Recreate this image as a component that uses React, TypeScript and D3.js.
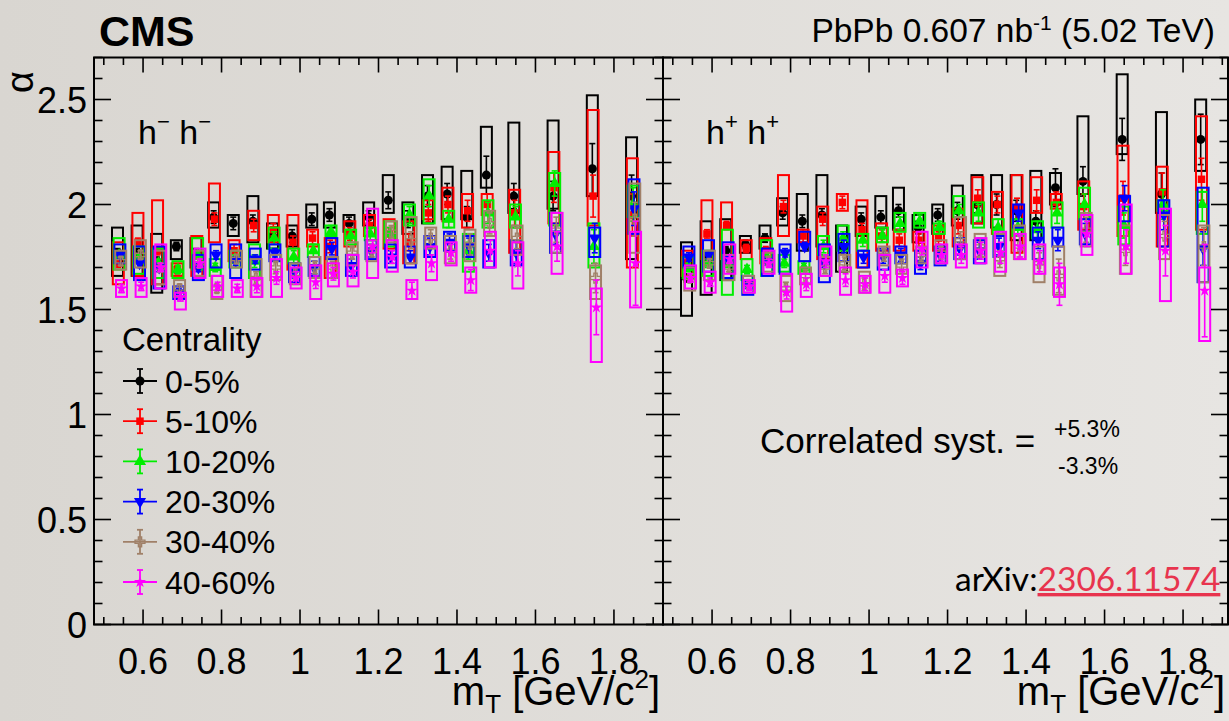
import React from 'react';
import * as d3 from 'd3';

// ---------- data ----------
const MT = [0.54, 0.59, 0.64, 0.69, 0.74, 0.785, 0.835, 0.885, 0.935, 0.985, 1.035, 1.08, 1.13, 1.18, 1.23, 1.28, 1.33, 1.38, 1.43, 1.48, 1.55, 1.65, 1.75, 1.85];
const CENTRALITY = ['0-5%', '5-10%', '10-20%', '20-30%', '30-40%', '40-60%'];
const X_TICKS = [0.6, 0.8, 1, 1.2, 1.4, 1.6, 1.8];
const Y_TICKS = [0, 0.5, 1, 1.5, 2, 2.5];

// h- h- panel
const MM_C0_VAL = [1.77,1.77,1.73,1.80,1.77,1.94,1.91,1.92,1.85,1.85,1.93,1.95,1.91,1.94,2.02,1.93,2.04,2.05,1.94,2.14,2.04,2.04,2.17,2.04];
const MM_C0_LO = [1.66,1.66,1.58,1.74,1.70,1.89,1.85,1.82,1.79,1.80,1.89,1.89,1.87,1.90,1.96,1.86,1.91,1.93,1.93,2.08,1.96,1.98,2.04,1.74];
const MM_C0_HI = [1.89,1.90,1.86,1.83,1.84,2.01,1.95,2.04,1.91,1.90,2.00,2.01,1.95,2.01,2.14,2.01,2.14,2.18,2.16,2.37,2.39,2.40,2.52,2.32];
const MM_C0_STAT = [0.02,0.02,0.02,0.02,0.02,0.03,0.03,0.03,0.03,0.03,0.03,0.03,0.03,0.03,0.04,0.04,0.05,0.05,0.05,0.09,0.06,0.07,0.12,0.1];

const MM_C1_VAL = [1.72,1.82,1.78,1.69,1.76,1.93,1.78,1.90,1.88,1.82,1.84,1.80,1.86,1.90,1.86,1.82,1.96,2.00,1.97,2.00,1.96,2.08,2.04,1.95];
const MM_C1_LO = [1.62,1.66,1.62,1.66,1.66,1.82,1.73,1.83,1.82,1.69,1.80,1.65,1.80,1.85,1.79,1.72,1.93,1.92,1.89,1.95,1.77,1.91,1.90,1.70];
const MM_C1_HI = [1.82,1.96,2.02,1.72,1.85,2.10,1.83,1.97,1.95,1.95,1.88,1.84,1.92,1.95,1.93,1.92,2.02,2.08,2.05,2.05,2.07,2.25,2.45,2.22];
const MM_C1_STAT = [0.02,0.02,0.02,0.02,0.02,0.03,0.03,0.03,0.03,0.03,0.03,0.03,0.03,0.03,0.03,0.04,0.04,0.04,0.05,0.05,0.06,0.07,0.1,0.1];

const MM_C2_VAL = [1.76,1.74,1.72,1.69,1.76,1.70,1.74,1.73,1.84,1.75,1.78,1.87,1.85,1.86,1.86,1.95,2.04,1.93,1.78,1.96,1.94,2.10,1.80,2.00];
const MM_C2_LO = [1.69,1.67,1.65,1.65,1.69,1.66,1.70,1.65,1.79,1.72,1.75,1.85,1.81,1.83,1.80,1.90,1.91,1.89,1.68,1.89,1.89,1.90,1.70,1.94];
const MM_C2_HI = [1.84,1.80,1.79,1.73,1.84,1.74,1.78,1.81,1.89,1.79,1.81,1.90,1.88,1.89,1.92,2.00,2.12,1.97,1.86,2.02,2.00,2.15,1.91,2.09];
const MM_C2_STAT = [0.02,0.02,0.02,0.02,0.02,0.02,0.02,0.03,0.03,0.03,0.03,0.03,0.03,0.03,0.03,0.04,0.05,0.04,0.04,0.05,0.05,0.06,0.08,0.08];

const MM_C3_VAL = [1.76,1.72,1.70,1.58,1.70,1.76,1.73,1.74,1.77,1.68,1.70,1.79,1.71,1.78,1.75,1.75,1.80,1.82,1.80,1.77,1.77,1.86,1.84,1.98];
const MM_C3_LO = [1.72,1.64,1.60,1.55,1.64,1.70,1.65,1.69,1.73,1.63,1.66,1.74,1.66,1.74,1.70,1.70,1.75,1.78,1.75,1.70,1.71,1.77,1.75,1.86];
const MM_C3_HI = [1.81,1.80,1.80,1.61,1.76,1.81,1.81,1.79,1.81,1.72,1.75,1.84,1.76,1.83,1.81,1.80,1.85,1.87,1.85,1.83,1.83,1.96,1.89,2.12];
const MM_C3_STAT = [0.02,0.02,0.02,0.02,0.02,0.02,0.02,0.02,0.02,0.03,0.03,0.03,0.03,0.03,0.03,0.03,0.04,0.04,0.04,0.04,0.05,0.05,0.07,0.08];

const MM_C4_VAL = [1.73,1.76,1.70,1.60,1.72,1.60,1.74,1.65,1.70,1.67,1.70,1.70,1.77,1.78,1.87,1.83,1.84,1.78,1.81,1.91,1.84,1.88,1.65,1.93];
const MM_C4_LO = [1.69,1.70,1.62,1.56,1.66,1.55,1.70,1.56,1.64,1.62,1.65,1.65,1.71,1.73,1.82,1.72,1.79,1.72,1.73,1.85,1.76,1.77,1.55,1.77];
const MM_C4_HI = [1.78,1.83,1.78,1.64,1.78,1.66,1.78,1.74,1.76,1.72,1.75,1.75,1.82,1.83,1.92,1.94,1.89,1.85,1.88,1.97,1.90,1.96,1.71,2.10];
const MM_C4_STAT = [0.02,0.02,0.02,0.02,0.02,0.02,0.02,0.03,0.03,0.03,0.03,0.03,0.03,0.03,0.03,0.04,0.04,0.04,0.05,0.05,0.05,0.06,0.07,0.08];

const MM_C5_VAL = [1.60,1.61,1.70,1.56,1.72,1.61,1.60,1.61,1.65,1.65,1.63,1.67,1.68,1.80,1.75,1.59,1.72,1.77,1.64,1.78,1.72,1.80,1.51,1.72];
const MM_C5_LO = [1.56,1.56,1.60,1.50,1.65,1.56,1.56,1.56,1.56,1.60,1.55,1.61,1.61,1.65,1.68,1.55,1.64,1.71,1.58,1.70,1.60,1.67,1.25,1.51];
const MM_C5_HI = [1.64,1.65,1.81,1.58,1.79,1.66,1.64,1.65,1.74,1.70,1.71,1.72,1.76,1.98,1.83,1.64,1.80,1.82,1.70,1.87,1.82,1.96,1.60,1.87];
const MM_C5_STAT = [0.02,0.02,0.02,0.02,0.02,0.02,0.02,0.03,0.03,0.03,0.03,0.03,0.03,0.03,0.03,0.04,0.04,0.04,0.05,0.05,0.06,0.07,0.13,0.2];

// h+ h+ panel
const PP_C0_VAL = [1.65,1.75,1.78,1.81,1.84,1.96,1.92,1.95,1.80,1.93,1.94,1.97,1.89,1.95,1.97,2.00,2.00,1.97,1.92,2.08,2.11,2.31,2.05,2.31];
const PP_C0_LO = [1.47,1.57,1.64,1.77,1.79,1.90,1.78,1.80,1.68,1.85,1.89,1.88,1.82,1.86,1.90,1.91,1.89,1.83,1.83,2.00,2.05,2.24,1.96,2.16];
const PP_C0_HI = [1.82,1.92,1.93,1.85,1.90,2.03,2.05,2.14,1.90,1.99,2.04,2.08,1.95,2.00,2.09,2.14,2.14,2.14,2.16,2.15,2.42,2.62,2.44,2.50];
const PP_C0_STAT = [0.02,0.02,0.02,0.02,0.02,0.03,0.03,0.03,0.03,0.03,0.03,0.03,0.03,0.03,0.04,0.04,0.05,0.05,0.05,0.09,0.07,0.1,0.1,0.12];

const PP_C1_VAL = [1.72,1.86,1.90,1.79,1.78,1.99,1.85,1.93,2.01,1.88,1.85,1.83,1.83,1.84,1.90,2.03,2.00,1.98,2.02,2.01,1.99,2.03,2.06,2.12];
const PP_C1_LO = [1.66,1.74,1.74,1.74,1.72,1.85,1.82,1.74,1.97,1.70,1.78,1.78,1.78,1.78,1.80,1.91,1.86,1.77,1.96,1.98,1.88,1.85,1.80,1.88];
const PP_C1_HI = [1.78,2.02,2.01,1.83,1.84,2.14,1.88,1.99,2.05,2.02,1.91,1.88,1.87,1.90,1.98,2.13,2.06,2.14,2.13,2.05,2.11,2.28,2.18,2.42];
const PP_C1_STAT = [0.02,0.02,0.02,0.02,0.02,0.03,0.03,0.03,0.03,0.03,0.03,0.03,0.03,0.03,0.04,0.04,0.04,0.05,0.05,0.05,0.06,0.08,0.09,0.1];

const PP_C2_VAL = [1.70,1.72,1.72,1.69,1.75,1.72,1.70,1.80,1.84,1.83,1.85,1.91,1.92,1.89,1.97,1.96,1.89,1.89,1.88,1.96,2.00,1.90,2.00,2.00];
const PP_C2_LO = [1.65,1.66,1.57,1.64,1.66,1.68,1.67,1.76,1.78,1.78,1.82,1.87,1.89,1.86,1.94,1.89,1.86,1.85,1.84,1.89,1.93,1.81,1.97,1.86];
const PP_C2_HI = [1.75,1.78,1.88,1.74,1.83,1.76,1.73,1.85,1.90,1.86,1.89,1.96,1.96,1.91,2.04,2.01,1.93,1.93,1.92,2.01,2.08,1.99,2.02,2.06];
const PP_C2_STAT = [0.02,0.02,0.02,0.02,0.02,0.02,0.02,0.03,0.03,0.03,0.03,0.03,0.03,0.03,0.03,0.04,0.04,0.04,0.04,0.05,0.05,0.06,0.07,0.08];

const PP_C3_VAL = [1.75,1.76,1.74,1.62,1.73,1.77,1.80,1.72,1.80,1.75,1.75,1.76,1.72,1.76,1.79,1.78,1.80,1.96,1.83,1.83,1.86,2.03,1.95,1.79];
const PP_C3_LO = [1.70,1.68,1.65,1.57,1.66,1.67,1.73,1.63,1.73,1.70,1.69,1.72,1.67,1.71,1.74,1.72,1.75,1.89,1.74,1.80,1.81,1.92,1.80,1.63];
const PP_C3_HI = [1.80,1.83,1.82,1.66,1.79,1.81,1.87,1.81,1.86,1.78,1.79,1.80,1.78,1.80,1.84,1.83,1.85,2.00,1.89,1.89,1.93,2.04,2.02,2.08];
const PP_C3_STAT = [0.02,0.02,0.02,0.02,0.02,0.02,0.02,0.02,0.03,0.03,0.03,0.03,0.03,0.03,0.03,0.04,0.04,0.04,0.04,0.05,0.05,0.06,0.07,0.08];

const PP_C4_VAL = [1.65,1.72,1.70,1.62,1.73,1.60,1.66,1.70,1.72,1.62,1.76,1.71,1.76,1.77,1.83,1.80,1.74,1.80,1.72,1.66,1.88,1.78,1.85,1.80];
const PP_C4_LO = [1.59,1.64,1.64,1.58,1.68,1.54,1.62,1.66,1.68,1.58,1.71,1.67,1.72,1.72,1.74,1.75,1.66,1.74,1.63,1.57,1.80,1.67,1.74,1.63];
const PP_C4_HI = [1.70,1.78,1.76,1.66,1.77,1.66,1.70,1.75,1.76,1.68,1.80,1.76,1.80,1.83,1.94,1.86,1.86,1.90,1.80,1.80,1.96,1.90,1.95,1.90];
const PP_C4_STAT = [0.02,0.02,0.02,0.02,0.02,0.03,0.03,0.03,0.03,0.03,0.03,0.03,0.03,0.03,0.04,0.04,0.04,0.05,0.05,0.08,0.06,0.07,0.07,0.09];

const PP_C5_VAL = [1.65,1.63,1.74,1.61,1.72,1.58,1.62,1.73,1.64,1.62,1.66,1.65,1.79,1.76,1.76,1.78,1.77,1.80,1.73,1.62,1.86,1.80,1.78,1.59];
const PP_C5_LO = [1.60,1.58,1.67,1.58,1.67,1.49,1.56,1.66,1.57,1.58,1.58,1.61,1.70,1.72,1.70,1.72,1.68,1.74,1.67,1.56,1.76,1.67,1.54,1.35];
const PP_C5_HI = [1.71,1.68,1.81,1.64,1.78,1.67,1.67,1.80,1.70,1.66,1.76,1.69,1.87,1.81,1.81,1.84,1.87,1.86,1.81,1.70,1.95,2.00,1.98,1.70];
const PP_C5_STAT = [0.02,0.02,0.02,0.02,0.02,0.03,0.03,0.03,0.03,0.03,0.03,0.03,0.03,0.03,0.04,0.04,0.05,0.05,0.05,0.1,0.06,0.08,0.12,0.22];

// ---------- styles ----------
const COLORS = ['#000000', '#ff0000', '#00ee00', '#0000ff', '#a08068', '#ff00ff'];
const SYMBOLS = ['circle', 'square', 'triangle', 'triangleDown', 'cross', 'star'];
const X_OFFSETS = [-2, -1.2, -0.4, 0.4, 1.2, 2];
const FONT = '"Liberation Sans", Arial, Helvetica, sans-serif';

const W = 1229;
const H = 721;
const Y_TOP = 57.5;
const Y_BOT = 624.5;

type Series = { val: number[]; lo: number[]; hi: number[]; stat: number[] };

const MM_SERIES: Series[] = [
  { val: MM_C0_VAL, lo: MM_C0_LO, hi: MM_C0_HI, stat: MM_C0_STAT },
  { val: MM_C1_VAL, lo: MM_C1_LO, hi: MM_C1_HI, stat: MM_C1_STAT },
  { val: MM_C2_VAL, lo: MM_C2_LO, hi: MM_C2_HI, stat: MM_C2_STAT },
  { val: MM_C3_VAL, lo: MM_C3_LO, hi: MM_C3_HI, stat: MM_C3_STAT },
  { val: MM_C4_VAL, lo: MM_C4_LO, hi: MM_C4_HI, stat: MM_C4_STAT },
  { val: MM_C5_VAL, lo: MM_C5_LO, hi: MM_C5_HI, stat: MM_C5_STAT },
];
const PP_SERIES: Series[] = [
  { val: PP_C0_VAL, lo: PP_C0_LO, hi: PP_C0_HI, stat: PP_C0_STAT },
  { val: PP_C1_VAL, lo: PP_C1_LO, hi: PP_C1_HI, stat: PP_C1_STAT },
  { val: PP_C2_VAL, lo: PP_C2_LO, hi: PP_C2_HI, stat: PP_C2_STAT },
  { val: PP_C3_VAL, lo: PP_C3_LO, hi: PP_C3_HI, stat: PP_C3_STAT },
  { val: PP_C4_VAL, lo: PP_C4_LO, hi: PP_C4_HI, stat: PP_C4_STAT },
  { val: PP_C5_VAL, lo: PP_C5_LO, hi: PP_C5_HI, stat: PP_C5_STAT },
];

const y = d3.scaleLinear().domain([0, 2.7]).range([Y_BOT, Y_TOP]);

function symbolPath(kind: string): string {
  const gen = d3.symbol();
  if (kind === 'circle') return gen.type(d3.symbolCircle).size(64)() as string;
  if (kind === 'square') return gen.type(d3.symbolSquare).size(56)() as string;
  if (kind === 'triangle' || kind === 'triangleDown') return gen.type(d3.symbolTriangle).size(64)() as string;
  if (kind === 'cross') return gen.type(d3.symbolCross).size(55)() as string;
  return gen.type(d3.symbolStar).size(45)() as string;
}

function Marker({ kind, color, cx, cy }: { kind: string; color: string; cx: number; cy: number }) {
  const rot = kind === 'triangleDown' ? ' rotate(180)' : '';
  const open = kind === 'cross';
  return (
    <path
      d={symbolPath(kind)}
      transform={`translate(${cx},${cy})${rot}`}
      fill={open ? 'none' : color}
      stroke={open ? color : 'none'}
      strokeWidth={open ? 1.3 : 0}
    />
  );
}

function Panel({ x0, x1, domainEnd, series, showYLabels }: { x0: number; x1: number; domainEnd: number; series: Series[]; showYLabels: boolean }) {
  const x = d3.scaleLinear().domain([0.475, domainEnd]).range([x0, x1]);
  const xMinor = d3.range(0.5, domainEnd, 0.05).map((v) => Math.round(v * 100) / 100);
  const yMinor = d3.range(0, 2.71, 0.1).map((v) => Math.round(v * 10) / 10);
  const isMajorX = (v: number) => X_TICKS.some((t) => Math.abs(t - v) < 1e-6);
  const isMajorY = (v: number) => Y_TICKS.some((t) => Math.abs(t - v) < 1e-6);
  return (
    <g>
      {series.map((s, si) => (
        <g key={si}>
          {MT.map((m, i) => {
            const cx = x(m) + X_OFFSETS[si];
            const c = COLORS[si];
            const yHi = y(s.hi[i]);
            const yLo = y(s.lo[i]);
            const e1 = y(s.val[i] + s.stat[i]);
            const e2 = y(s.val[i] - s.stat[i]);
            return (
              <g key={i}>
                <rect x={cx - 5.5} y={yHi} width={11} height={yLo - yHi} fill="none" stroke={c} strokeWidth={2} />
                <line x1={cx} x2={cx} y1={e1} y2={e2} stroke={c} strokeWidth={1.6} />
                <line x1={cx - 3} x2={cx + 3} y1={e1} y2={e1} stroke={c} strokeWidth={1.6} />
                <line x1={cx - 3} x2={cx + 3} y1={e2} y2={e2} stroke={c} strokeWidth={1.6} />
                <Marker kind={SYMBOLS[si]} color={c} cx={cx} cy={y(s.val[i])} />
              </g>
            );
          })}
        </g>
      ))}
      <rect x={x0} y={Y_TOP} width={x1 - x0} height={Y_BOT - Y_TOP} fill="none" stroke="#000" strokeWidth={2} />
      {xMinor.map((v) => {
        const L = isMajorX(v) ? 15 : 7.5;
        return (
          <g key={v}>
            <line x1={x(v)} x2={x(v)} y1={Y_BOT} y2={Y_BOT - L} stroke="#000" strokeWidth={1.6} />
            <line x1={x(v)} x2={x(v)} y1={Y_TOP} y2={Y_TOP + L} stroke="#000" strokeWidth={1.6} />
          </g>
        );
      })}
      {yMinor.map((v) => {
        const L = isMajorY(v) ? 17 : 8.5;
        return (
          <g key={v}>
            <line x1={x0} x2={x0 + L} y1={y(v)} y2={y(v)} stroke="#000" strokeWidth={1.6} />
            <line x1={x1} x2={x1 - L} y1={y(v)} y2={y(v)} stroke="#000" strokeWidth={1.6} />
          </g>
        );
      })}
      {X_TICKS.map((t) => (
        <text key={t} x={x(t)} y={674} textAnchor="middle" fontSize={36} fontFamily={FONT} fill="#000">
          {String(t)}
        </text>
      ))}
      {showYLabels &&
        Y_TICKS.map((t) => (
          <text key={t} x={87} y={y(t) + 13} textAnchor="end" fontSize={36} fontFamily={FONT} fill="#000">
            {String(t)}
          </text>
        ))}
      <text x={x1 - 3} y={705} textAnchor="end" fontSize={40} fontFamily={FONT} fill="#000">
        m<tspan dy={8} fontSize={26}>T</tspan>
        <tspan dy={-8}> [GeV/c</tspan>
        <tspan dy={-17} fontSize={26}>2</tspan>
        <tspan dy={17}>]</tspan>
      </text>
    </g>
  );
}

export default function App() {
  return (
    <svg width={W} height={H} style={{ position: 'absolute', left: 0, top: 0 }} xmlns="http://www.w3.org/2000/svg">
      <defs>
        <linearGradient id="bg" x1="0" x2="1" y1="0" y2="0">
          <stop offset="0" stopColor="#d9d6d1" />
          <stop offset="1" stopColor="#e7e5e2" />
        </linearGradient>
      </defs>
      <rect x={0} y={0} width={W} height={H} fill="url(#bg)" />

      <Panel x0={94} x1={663} domainEnd={1.925} series={MM_SERIES} showYLabels={true} />
      <Panel x0={663} x1={1228} domainEnd={0.475 + 565 / 392.5} series={PP_SERIES} showYLabels={false} />

      <text x={99} y={46} fontSize={43} fontWeight="bold" fontFamily={FONT} fill="#000">CMS</text>
      <text x={1215} y={42} textAnchor="end" fontSize={33.5} fontFamily={FONT} fill="#000">
        PbPb 0.607 nb<tspan dy={-12} fontSize={21}>-1</tspan>
        <tspan dy={12}> (5.02 TeV)</tspan>
      </text>
      <text transform="translate(33,82) rotate(-90)" textAnchor="middle" fontSize={38} fontFamily={FONT} fill="#000">α</text>

      <text x={138} y={144} fontSize={34} fontFamily={FONT} fill="#000">
        h<tspan dy={-15} fontSize={22}>−</tspan>
        <tspan dy={15}> h</tspan>
        <tspan dy={-15} fontSize={22}>−</tspan>
      </text>
      <text x={706} y={144} fontSize={34} fontFamily={FONT} fill="#000">
        h<tspan dy={-15} fontSize={22}>+</tspan>
        <tspan dy={15}> h</tspan>
        <tspan dy={-15} fontSize={22}>+</tspan>
      </text>

      <text x={122} y={351} fontSize={33} fontFamily={FONT} fill="#000">Centrality</text>
      {CENTRALITY.map((lab, i) => {
        const cy = 381 + 40.2 * i;
        const c = COLORS[i];
        return (
          <g key={lab}>
            <line x1={123} x2={157} y1={cy} y2={cy} stroke={c} strokeWidth={1.8} />
            <line x1={140} x2={140} y1={cy - 12} y2={cy + 12} stroke={c} strokeWidth={1.8} />
            <line x1={137} x2={143} y1={cy - 12} y2={cy - 12} stroke={c} strokeWidth={1.8} />
            <line x1={137} x2={143} y1={cy + 12} y2={cy + 12} stroke={c} strokeWidth={1.8} />
            <Marker kind={SYMBOLS[i]} color={c} cx={140} cy={cy} />
            <text x={165} y={cy + 11.5} fontSize={32} fontFamily={FONT} fill="#000">{lab}</text>
          </g>
        );
      })}

      <text x={760} y={453} fontSize={35} fontFamily={FONT} fill="#000">Correlated syst. =</text>
      <text x={1054} y={437} fontSize={23} fontFamily={FONT} fill="#000">+5.3%</text>
      <text x={1058} y={474} fontSize={23} fontFamily={FONT} fill="#000">-3.3%</text>

      <text x={955} y={591} fontSize={33.5} fontFamily="Lato, 'Open Sans', sans-serif" fill="#000">
        arXiv:
        <tspan fill="#e8344e" style={{ textDecoration: 'underline' }}>2306.11574</tspan>
      </text>
    </svg>
  );
}
